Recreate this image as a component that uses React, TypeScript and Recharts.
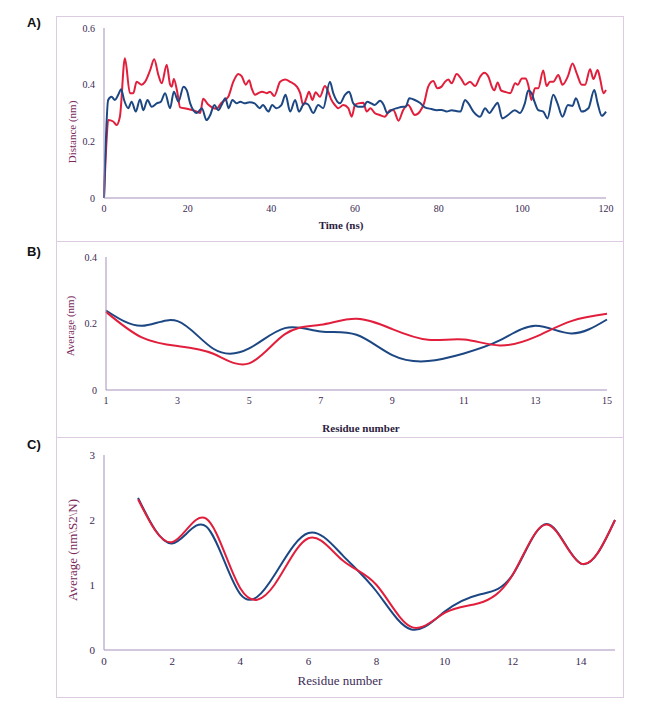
import React from 'react';
import { LineChart, Line, XAxis, YAxis } from 'recharts';

// ---------- Panel A: distance vs time ----------
const redTimeA = [0, 0.6, 1.0, 2.2, 3.0, 3.8, 5.0, 6.2, 7.0, 7.8, 9.0, 9.8, 11.0, 12.0, 13.0, 13.8, 15.0, 15.8, 16.2, 16.7, 17.5, 18.2, 19.8, 22.2, 23.0, 23.7, 24.9, 26.9, 28.0, 29.7, 30.9, 32.1, 32.9, 33.9, 34.7, 35.3, 36.1, 36.9, 37.8, 38.9, 39.7, 40.7, 42.1, 43.3, 44.5, 46.1, 46.9, 47.6, 48.4, 49.0, 49.8, 50.6, 51.6, 52.8, 53.6, 54.3, 55.2, 56.0, 57.2, 58.4, 59.2, 60.0, 60.8, 62.0, 62.8, 63.7, 64.7, 65.9, 67.1, 68.4, 69.2, 70.4, 71.5, 72.7, 74.3, 75.5, 76.5, 77.5, 78.7, 79.7, 80.7, 81.5, 82.3, 83.1, 84.3, 85.5, 86.3, 87.5, 88.7, 89.9, 90.9, 91.9, 92.7, 93.3, 94.1, 94.9, 95.8, 97.1, 98.3, 98.9, 99.9, 100.8, 101.4, 102.2, 103.0, 103.8, 105.0, 105.8, 106.6, 107.4, 108.6, 109.6, 110.9, 112.0, 113.0, 114.2, 115.0, 116.2, 117.0, 118.0, 118.6, 119.4, 120.0];
const redDistA = [0, 0.2, 0.275, 0.27, 0.258, 0.287, 0.493, 0.37, 0.37, 0.41, 0.4, 0.41, 0.45, 0.49, 0.434, 0.405, 0.47, 0.4, 0.393, 0.42, 0.375, 0.32, 0.315, 0.305, 0.3, 0.35, 0.33, 0.315, 0.335, 0.357, 0.41, 0.438, 0.43, 0.4, 0.416, 0.387, 0.364, 0.37, 0.375, 0.37, 0.375, 0.36, 0.41, 0.418, 0.41, 0.393, 0.37, 0.328, 0.353, 0.375, 0.346, 0.373, 0.357, 0.395, 0.375, 0.348, 0.328, 0.317, 0.328, 0.317, 0.287, 0.328, 0.334, 0.336, 0.305, 0.317, 0.3, 0.293, 0.287, 0.31, 0.31, 0.273, 0.31, 0.328, 0.293, 0.305, 0.334, 0.393, 0.413, 0.387, 0.393, 0.41, 0.418, 0.405, 0.438, 0.418, 0.4, 0.41, 0.395, 0.428, 0.442, 0.428, 0.393, 0.38, 0.408, 0.38, 0.375, 0.37, 0.405, 0.4, 0.422, 0.422, 0.4, 0.346, 0.387, 0.387, 0.45, 0.395, 0.41, 0.41, 0.434, 0.4, 0.43, 0.475, 0.44, 0.4, 0.4, 0.454, 0.42, 0.452, 0.42, 0.37, 0.381];

const blueTimeA = [0, 1.0, 1.8, 2.6, 3.4, 4.1, 4.8, 5.8, 6.6, 7.6, 8.6, 9.4, 10.4, 11.4, 12.6, 13.6, 14.6, 15.8, 16.7, 17.8, 19.0, 19.8, 20.6, 22.2, 23.4, 24.5, 25.3, 26.4, 27.3, 28.1, 29.0, 29.8, 30.7, 31.7, 32.6, 33.6, 34.8, 36.0, 37.2, 38.0, 39.3, 40.2, 41.2, 42.4, 43.4, 44.5, 45.7, 46.6, 47.9, 48.8, 50.0, 51.2, 52.4, 54.0, 54.8, 56.4, 57.6, 58.6, 59.6, 60.8, 62.0, 62.9, 63.9, 64.7, 66.0, 66.8, 67.7, 68.7, 70.0, 71.5, 72.1, 73.0, 74.3, 75.5, 76.7, 78.3, 79.5, 80.7, 81.9, 83.1, 84.4, 85.2, 86.3, 87.1, 88.3, 89.9, 91.1, 92.1, 93.1, 94.1, 95.2, 96.6, 98.2, 99.4, 100.6, 101.4, 102.2, 102.9, 103.8, 105.0, 106.0, 107.4, 108.4, 109.6, 110.9, 112.0, 112.8, 114.2, 115.8, 117.2, 118.0, 119.0, 120.0];
const blueDistA = [0, 0.346, 0.357, 0.346, 0.364, 0.384, 0.346, 0.317, 0.34, 0.305, 0.348, 0.31, 0.346, 0.322, 0.334, 0.34, 0.37, 0.317, 0.375, 0.34, 0.393, 0.38, 0.334, 0.3, 0.317, 0.275, 0.29, 0.328, 0.31, 0.328, 0.352, 0.317, 0.346, 0.334, 0.34, 0.334, 0.338, 0.334, 0.317, 0.328, 0.305, 0.328, 0.317, 0.328, 0.364, 0.305, 0.346, 0.305, 0.334, 0.33, 0.3, 0.328, 0.317, 0.41, 0.37, 0.334, 0.364, 0.375, 0.334, 0.322, 0.322, 0.34, 0.334, 0.328, 0.343, 0.33, 0.3, 0.31, 0.317, 0.322, 0.322, 0.352, 0.346, 0.336, 0.32, 0.314, 0.31, 0.311, 0.305, 0.31, 0.306, 0.305, 0.346, 0.334, 0.305, 0.287, 0.317, 0.3, 0.318, 0.336, 0.281, 0.293, 0.31, 0.3, 0.334, 0.379, 0.37, 0.34, 0.31, 0.305, 0.281, 0.364, 0.334, 0.287, 0.328, 0.325, 0.352, 0.305, 0.317, 0.381, 0.334, 0.29, 0.305];

const timeTicksA = [0, 20, 40, 60, 80, 100, 120];
const distTicksA = [0, 0.2, 0.4, 0.6];

// ---------- Panel B: average per residue ----------
const residuesB = [1, 2, 3, 4, 5, 6, 7, 8, 9, 10, 11, 12, 13, 14, 15];
const blueB = [0.239, 0.193, 0.207, 0.124, 0.125, 0.186, 0.176, 0.166, 0.105, 0.087, 0.11, 0.149, 0.193, 0.17, 0.212];
const redB = [0.235, 0.158, 0.132, 0.109, 0.08, 0.168, 0.196, 0.214, 0.183, 0.151, 0.152, 0.134, 0.16, 0.207, 0.229];
const residueTicksB = [1, 3, 5, 7, 9, 11, 13, 15];
const avgTicksB = [0, 0.2, 0.4];

// ---------- Panel C: average (nm^2) per residue ----------
const residuesC = [1, 2, 3, 4, 5, 6, 7, 8, 9, 10, 11, 12, 13, 14, 15];
const blueC = [2.34, 1.64, 1.9, 0.86, 1.15, 1.8, 1.46, 0.9, 0.32, 0.59, 0.85, 1.16, 1.94, 1.33, 2.0];
const redC = [2.32, 1.66, 2.02, 0.95, 1.0, 1.72, 1.38, 1.0, 0.36, 0.57, 0.72, 1.16, 1.93, 1.33, 2.0];
const residueTicksC = [0, 2, 4, 6, 8, 10, 12, 14];
const avgTicksC = [0, 1, 2, 3];

const RED = '#e11f3c';
const BLUE = '#1c4783';
const AXIS = '#a58fba';
const TICK = '#3a2952';
const BORDER = '#dccbe1';
const SERIF = 'Liberation Serif';

const redA = redTimeA.map((t, i) => ({ t, v: redDistA[i] }));
const blueA = blueTimeA.map((t, i) => ({ t, v: blueDistA[i] }));
const dataB = residuesB.map((r, i) => ({ r, blue: blueB[i], red: redB[i] }));
const dataC = residuesC.map((r, i) => ({ r, blue: blueC[i], red: redC[i] }));

const tickStyle = { fill: TICK, fontSize: 10, fontFamily: SERIF };
const fmt = (v: number) => String(v);

const Box = ({ top, height }: { top: number; height: number }) => (
  <div style={{ position: 'absolute', left: 56, top, width: 568, height, border: `1.5px solid ${BORDER}`, boxSizing: 'border-box' }} />
);

const PanelTag = ({ text, top }: { text: string; top: number }) => (
  <div style={{ position: 'absolute', left: 27, top, fontFamily: '"Liberation Sans", Arial, sans-serif', fontWeight: 'bold', fontSize: 13, color: '#111' }}>{text}</div>
);

const VLabel = ({ text, cx, cy, size, color }: { text: string; cx: number; cy: number; size: number; color: string }) => (
  <div style={{ position: 'absolute', left: cx, top: cy, transform: 'translate(-50%, -50%) rotate(-90deg)', whiteSpace: 'nowrap', fontFamily: SERIF, fontSize: size, color, lineHeight: 1 }}>{text}</div>
);

const HLabel = ({ text, cx, cy, size, color, bold }: { text: string; cx: number; cy: number; size: number; color: string; bold?: boolean }) => (
  <div style={{ position: 'absolute', left: cx, top: cy, transform: 'translate(-50%, -50%)', whiteSpace: 'nowrap', fontFamily: SERIF, fontSize: size, color, fontWeight: bold ? 'bold' : 'normal', lineHeight: 1 }}>{text}</div>
);

export default function App() {
  return (
    <div style={{ position: 'absolute', left: 0, top: 0, width: 670, height: 704, background: '#fff', overflow: 'hidden', fontFamily: SERIF }}>
      <Box top={16} height={226} />
      <Box top={241} height={197} />
      <Box top={437} height={261} />
      <PanelTag text="A)" top={15} />
      <PanelTag text="B)" top={244} />
      <PanelTag text="C)" top={437} />

      {/* Panel A */}
      <div style={{ position: 'absolute', left: 0, top: 0 }}>
        <LineChart width={670} height={240} margin={{ top: 28, right: 64, bottom: 10, left: 64 }} style={{ fontFamily: SERIF }}>
          <XAxis type="number" dataKey="t" domain={[0, 120]} ticks={timeTicksA} tickFormatter={fmt}
            axisLine={{ stroke: AXIS }} tickLine={false} tickSize={0} tickMargin={7} tick={tickStyle} height={32} allowDuplicatedCategory={false} />
          <YAxis type="number" domain={[0, 0.6]} ticks={distTicksA} tickFormatter={fmt}
            axisLine={{ stroke: AXIS }} tickLine={false} tickSize={0} tickMargin={9} tick={tickStyle} width={40} />
          <Line data={redA} dataKey="v" type="monotone" stroke={RED} strokeWidth={2} dot={false} activeDot={false} isAnimationActive={false} />
          <Line data={blueA} dataKey="v" type="monotone" stroke={BLUE} strokeWidth={2} dot={false} activeDot={false} isAnimationActive={false} />
        </LineChart>
      </div>
      <VLabel text="Distance (nm)" cx={72} cy={132} size={11} color="#7a2a5c" />
      <HLabel text="Time (ns)" cx={341} cy={225} size={11} color="#2c1c3e" bold />

      {/* Panel B */}
      <div style={{ position: 'absolute', left: 0, top: 240 }}>
        <LineChart width={670} height={197} data={dataB} margin={{ top: 17, right: 63, bottom: 17, left: 66 }} style={{ fontFamily: SERIF }}>
          <XAxis type="number" dataKey="r" domain={[1, 15]} ticks={residueTicksB} tickFormatter={fmt}
            axisLine={{ stroke: AXIS }} tickLine={false} tickSize={0} tickMargin={7} tick={tickStyle} height={30} />
          <YAxis type="number" domain={[0, 0.4]} ticks={avgTicksB} tickFormatter={fmt}
            axisLine={{ stroke: AXIS }} tickLine={false} tickSize={0} tickMargin={9} tick={tickStyle} width={40} />
          <Line dataKey="blue" type="natural" stroke={BLUE} strokeWidth={2} dot={false} activeDot={false} isAnimationActive={false} />
          <Line dataKey="red" type="natural" stroke={RED} strokeWidth={2} dot={false} activeDot={false} isAnimationActive={false} />
        </LineChart>
      </div>
      <VLabel text="Average  (nm)" cx={70} cy={326} size={11} color="#7a2a5c" />
      <HLabel text="Residue number" cx={361} cy={428} size={11} color="#2c1c3e" bold />

      {/* Panel C */}
      <div style={{ position: 'absolute', left: 0, top: 437 }}>
        <LineChart width={670} height={260} data={dataC} margin={{ top: 18, right: 55, bottom: 17, left: 64 }} style={{ fontFamily: SERIF }}>
          <XAxis type="number" dataKey="r" domain={[0, 15]} ticks={residueTicksC} tickFormatter={fmt}
            axisLine={{ stroke: AXIS }} tickLine={false} tickSize={0} tickMargin={7} tick={{ ...tickStyle, fontSize: 11 }} height={30} />
          <YAxis type="number" domain={[0, 3]} ticks={avgTicksC} tickFormatter={fmt}
            axisLine={{ stroke: AXIS }} tickLine={false} tickSize={0} tickMargin={9} tick={{ ...tickStyle, fontSize: 11 }} width={40} />
          <Line dataKey="blue" type="natural" stroke={BLUE} strokeWidth={2} dot={false} activeDot={false} isAnimationActive={false} />
          <Line dataKey="red" type="natural" stroke={RED} strokeWidth={2} dot={false} activeDot={false} isAnimationActive={false} />
        </LineChart>
      </div>
      <VLabel text="Average  (nm\S2\N)" cx={72} cy={550} size={13} color="#7a2a5c" />
      <HLabel text="Residue number" cx={340} cy={680} size={13} color="#3e2c58" />
    </div>
  );
}
